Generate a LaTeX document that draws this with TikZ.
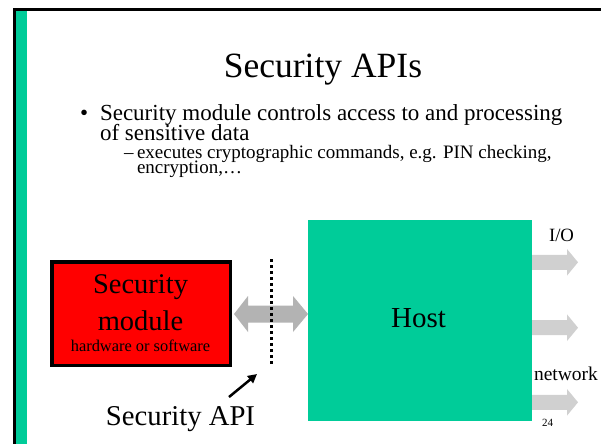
\documentclass[tikz,border=0pt]{standalone}
\usepackage{fontspec}
\setmainfont{Liberation Serif}
\usetikzlibrary{arrows.meta}
\definecolor{slidegreen}{HTML}{00CC99}
\definecolor{modred}{HTML}{FF0000}
\definecolor{apigray}{HTML}{B3B3B3}
\definecolor{outgray}{HTML}{D0D0D0}
\tikzset{
  txt/.style={inner sep=0pt, outer sep=0pt, anchor=base},
  fs/.style={font=\fontsize{#1}{#1}\selectfont},
  block/.style={inner sep=0pt, outer sep=0pt},
}
\begin{document}
\begin{tikzpicture}[x=1pt,y=-1pt]
\useasboundingbox (0,0) rectangle (601,444);
\fill[white] (0,0) rectangle (601,444);
% slide frame
\fill[black] (13,8) rectangle (601,11);
\fill[black] (13,8) rectangle (16,444);
\fill[slidegreen] (16,11) rectangle (27,444);
% title and bullets
\node[txt, fs=35.5] (title) at (323,77) {Security APIs};
\node[txt, fs=23, anchor=base west] (b1) at (80,120) {•};
\node[txt, fs=23, anchor=base west] (l1) at (100,120) {Security module controls access to and processing};
\node[txt, fs=23, anchor=base west] (l2) at (100,140.5) {of sensitive data};
\node[txt, fs=19, anchor=base west] (d1) at (124,158) {–};
\node[txt, fs=19, anchor=base west] (s1) at (137,158) {executes cryptographic commands, e.g. PIN checking,};
\node[txt, fs=19, anchor=base west] (s2) at (137,173.5) {encryption,…};
% security module
\node[block, draw=black, line width=3.5pt, fill=modred, minimum width=178.5pt, minimum height=103.5pt] (sm) at (141,313.5) {};
\node[txt, fs=28.5] (smt1) at (140.5,293) {Security};
\node[txt, fs=28.5] (smt2) at (140.5,330) {module};
\node[txt, fs=16.4] (smt3) at (140.5,351) {hardware or software};
% host
\node[block, fill=slidegreen, minimum width=224pt, minimum height=201pt] (host) at (420,320.5) {};
\node[txt, fs=29] (hostt) at (418.5,327) {Host};
% API double arrow
\fill[apigray] (234,314) -- (248,296) -- (248,305.5) -- (293,305.5) -- (293,296) -- (308,314)
  -- (293,332) -- (293,322.5) -- (248,322.5) -- (248,332) -- cycle;
% API boundary
\coordinate (apitop) at (271.7,259);
\coordinate (apibot) at (271.7,365);
\draw[black, line width=3pt, dash pattern=on 3pt off 3pt] (apitop) -- (apibot);
% label and pointer
\node[txt, fs=28.7] (api) at (180.5,425) {Security API};
\coordinate (ptail) at (229,397);
\coordinate (phead) at (257,374);
\draw[black, line width=2.5pt, -{Triangle[length=9pt,width=9pt]}] (ptail) -- (phead);
% output arrows
\foreach \c/\n in {262.3/o1, 327.7/o2, 402.3/o3}{
  \fill[outgray] (532,\c-7.5) -- (567,\c-7.5) -- (567,\c-13.3) -- (578,\c)
    -- (567,\c+13.3) -- (567,\c+7.5) -- (532,\c+7.5) -- cycle;
}
\node[txt, fs=18.75] (io) at (561.5,241) {I/O};
\node[txt, fs=19.5] (net) at (566,380) {network};
\node[txt, fs=11] (pg) at (547.5,426) {24};
\end{tikzpicture}
\end{document}
